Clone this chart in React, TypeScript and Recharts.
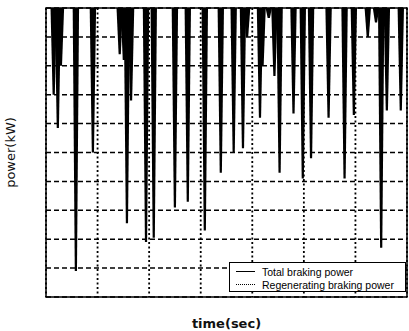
import { ComposedChart, Bar, XAxis, YAxis, CartesianGrid, ReferenceArea, Legend } from 'recharts';

// braking events (time in grid units, power in grid units below 0)
const eventTime = [
  0.15, 0.23, 0.29, 0.58, 0.91, 1.43, 1.51, 1.57, 1.65, 1.94, 2.09, 2.5, 2.75, 3.08, 3.39,
  3.64, 3.82, 3.9, 4.15, 4.2, 4.32, 4.43, 4.53, 4.8, 4.98, 5.14, 5.48, 5.79, 5.97, 6.24,
  6.4, 6.5, 6.61, 6.88,
];
const totalPower = [
  -3.0, -4.15, -2.0, -9.1, -5.0, -1.6, -1.8, -7.45, -3.2, -8.1, -7.95, -6.9, -6.7, -7.7, -5.7,
  -5.0, -4.85, -1.0, -3.8, -2.0, -0.35, -2.35, -5.7, -3.65, -5.9, -5.2, -3.8, -5.9, -3.7, -1.0,
  -0.5, -8.3, -3.55, -3.55,
];
const regenPower = [
  -2.8, -4.0, -1.9, -8.9, -4.8, -1.5, -1.7, -7.2, -3.0, -7.9, -7.7, -6.7, -6.5, -7.5, -5.5,
  -4.8, -4.7, -0.9, -3.6, -1.9, -0.3, -2.2, -5.5, -3.5, -5.7, -5.0, -3.6, -5.7, -3.5, -0.9,
  -0.45, -8.1, -3.4, -3.4,
];
const xTicks = [0, 1, 2, 3, 4, 5, 6, 7];
const yTicks = [-10, -9, -8, -7, -6, -5, -4, -3, -2, -1, 0];

const data = eventTime.map((t, i) => ({ t, total: totalPower[i], regen: regenPower[i] }));

// spike drawn wide at the zero line, narrow at its tip
function Spike(props: any) {
  const { x, y, width, height } = props;
  if (x == null || y == null) return null;
  const cx = x + width / 2;
  const top = Math.min(y, y + height);
  const bottom = Math.max(y, y + height);
  return (
    <polygon
      points={`${cx - 3.2},${top} ${cx + 3.2},${top} ${cx + 1.1},${bottom} ${cx - 1.1},${bottom}`}
      fill="#000"
    />
  );
}

function RegenTrace(props: any) {
  const { x, y, width, height } = props;
  if (x == null || y == null) return null;
  const cx = x + width / 2;
  const top = Math.min(y, y + height);
  const bottom = Math.max(y, y + height);
  return <line x1={cx} x2={cx} y1={top} y2={bottom} stroke="#000" strokeWidth={1} strokeDasharray="1 1" />;
}

const legendFont = { fontFamily: '"Liberation Sans", Arial, sans-serif', fontSize: 10.5, color: '#000' };

function BrakeLegend() {
  return (
    <div
      style={{
        width: 177,
        height: 30,
        border: '1.5px solid #000',
        background: '#fff',
        boxSizing: 'border-box',
        padding: '2px 0 0 6px',
        lineHeight: '12px',
        ...legendFont,
      }}
    >
      <div style={{ display: 'flex', alignItems: 'center', height: 13 }}>
        <span style={{ display: 'inline-block', width: 19, borderTop: '1.5px solid #000', marginRight: 7 }} />
        Total braking power
      </div>
      <div style={{ display: 'flex', alignItems: 'center', height: 13 }}>
        <span style={{ display: 'inline-block', width: 19, borderTop: '1.5px dotted #000', marginRight: 7 }} />
        Regenerating braking power
      </div>
    </div>
  );
}

// the reference has no tick labels; keep the ticks for the grid but draw nothing
const NoTick = () => <g />;

export default function App() {
  return (
    <div style={{ width: 409, height: 331, position: 'relative', background: '#fff' }}>
      <style>{'body{margin:0}'}</style>
      <ComposedChart width={409} height={331} data={data} margin={{ top: 8, right: 2, left: 0, bottom: 0 }}>
        <CartesianGrid vertical={false} stroke="#000" strokeWidth={1.5} strokeDasharray="5 3" />
        <CartesianGrid horizontal={false} stroke="#000" strokeWidth={1.8} strokeDasharray="2 2.5" />
        <XAxis
          dataKey="t"
          type="number"
          domain={[0, 7]}
          ticks={xTicks}
          tick={NoTick}
          tickLine={false}
          axisLine={false}
          height={34}
          label={{
            value: 'time(sec)',
            position: 'insideBottom',
            offset: 3,
            style: { fontFamily: '"DejaVu Sans", sans-serif', fontSize: 13, fontWeight: 'bold', fill: '#111' },
          }}
        />
        <XAxis xAxisId="regen" dataKey="t" type="number" domain={[0, 7]} hide />
        <YAxis
          type="number"
          domain={[-10, 0]}
          ticks={yTicks}
          tick={NoTick}
          tickLine={false}
          axisLine={false}
          width={46}
          label={{
            value: 'power(kW)',
            angle: -90,
            position: 'insideLeft',
            offset: 10,
            style: { textAnchor: 'middle', fontFamily: '"DejaVu Sans", sans-serif', fontSize: 13, fill: '#111' },
          }}
        />
        <Bar dataKey="total" name="Total braking power" shape={<Spike />} isAnimationActive={false} />
        <Bar
          dataKey="regen"
          xAxisId="regen"
          name="Regenerating braking power"
          shape={<RegenTrace />}
          isAnimationActive={false}
        />
        <ReferenceArea x1={0} x2={7} y1={-10} y2={0} fill="none" stroke="#000" strokeWidth={1.5} />
        <Legend
          layout="horizontal"
          align="center"
          verticalAlign="middle"
          content={<BrakeLegend />}
          wrapperStyle={{ position: 'absolute', left: 229, top: 262, width: 177 }}
        />
      </ComposedChart>
    </div>
  );
}
